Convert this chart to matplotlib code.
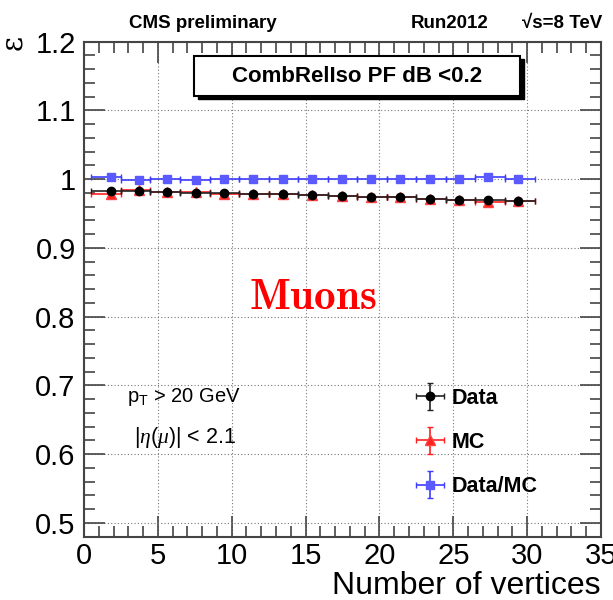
import matplotlib
matplotlib.use("Agg")
import matplotlib.pyplot as plt
from matplotlib.patches import Rectangle
from matplotlib.ticker import MultipleLocator
from matplotlib.legend_handler import HandlerErrorbar
import numpy as np

plt.rcParams['font.family'] = ['Liberation Sans', 'DejaVu Sans']
plt.rcParams['mathtext.fontset'] = 'custom'
plt.rcParams['mathtext.rm'] = 'Liberation Sans'
plt.rcParams['mathtext.it'] = 'Liberation Serif:italic'

# Number-of-vertices bins (width 2) and mean position of each bin
bin_low = [0.5, 2.5, 4.5, 6.5, 8.5, 10.5, 12.5, 14.5, 16.5, 18.5, 20.5, 22.5, 24.5, 26.5, 28.5]
bin_high = [2.5, 4.5, 6.5, 8.5, 10.5, 12.5, 14.5, 16.5, 18.5, 20.5, 22.5, 24.5, 26.5, 28.5, 30.5]
nvtx = [1.84, 3.72, 5.64, 7.58, 9.50, 11.47, 13.44, 15.42, 17.47, 19.46, 21.40, 23.39, 25.37, 27.37, 29.40]

eff_data = [0.9825, 0.9825, 0.9811, 0.9801, 0.9796, 0.9782, 0.9782, 0.9767,
            0.9757, 0.9738, 0.9738, 0.9719, 0.9704, 0.9704, 0.9690]
eff_mc = [0.9790, 0.9838, 0.9810, 0.9810, 0.9792, 0.9778, 0.9778, 0.9763,
          0.9753, 0.9734, 0.9734, 0.9715, 0.9700, 0.9675, 0.9686]
ratio = [1.0038, 0.9987, 1.0000, 0.9990, 1.0004, 1.0004, 1.0004, 1.0004,
         1.0004, 1.0004, 1.0004, 1.0004, 1.0004, 1.0030, 1.0004]
eff_err = [0.0005] * 15

x = np.array(nvtx)
xerr = [x - np.array(bin_low), np.array(bin_high) - x]

fig = plt.figure(figsize=(6.13, 6.0), dpi=100)
ax = fig.add_axes([84/613, 1 - 536.7/600, (601 - 84)/613, (536.7 - 41.7)/600])

mc = ax.errorbar(x, eff_mc, xerr=xerr, yerr=eff_err, fmt='^', color='#ff2020',
                 ecolor='#ff2020', ms=6.5, mec='#ff4040', mfc='#ff2020',
                 elinewidth=1.2, capsize=2.5, capthick=1.0, zorder=3, label='MC')
data = ax.errorbar(x, eff_data, xerr=xerr, yerr=eff_err, fmt='o', color='black',
                   ecolor='#222222', ms=6, mfc='black', mec='black',
                   elinewidth=1.2, capsize=2.5, capthick=1.0, zorder=4, label='Data')
rat = ax.errorbar(x, ratio, xerr=xerr, yerr=eff_err, fmt='s', color='#3c3cff',
                  ecolor='#3c3cff', ms=6, mfc='#5a5aff', mec='#5a5aff',
                  elinewidth=1.2, capsize=2.5, capthick=1.0, zorder=5, label='Data/MC')

ax.set_xlim(0, 35)
ax.set_ylim(0.48, 1.2)
ax.xaxis.set_major_locator(MultipleLocator(5))
ax.xaxis.set_minor_locator(MultipleLocator(1))
ax.yaxis.set_minor_locator(MultipleLocator(0.02))
ax.set_yticks([0.5, 0.6, 0.7, 0.8, 0.9, 1.0, 1.1, 1.2])
ax.set_yticklabels(['0.5', '0.6', '0.7', '0.8', '0.9', '1', '1.1', '1.2'])
ax.tick_params(which='both', direction='in', top=True, right=True, color='#444444', width=1.2)
ax.tick_params(which='major', length=15, labelsize=21, pad=6)
ax.tick_params(which='minor', length=8)
ax.tick_params(axis='x', which='major', pad=4)
ax.grid(True, which='major', linestyle=(0, (1, 2)), color='#777777', linewidth=0.8)
for s in ax.spines.values():
    s.set_color('#444444')
    s.set_linewidth(1.5)

fig.text(600/613, 1 - 593.5/600, 'Number of vertices', ha='right', va='baseline',
         fontsize=23)
fig.text(13/613, 1 - 42/600, 'ε', rotation=90, ha='center', va='center',
         fontsize=21, family='DejaVu Serif')

# Header
fig.text(203/613, 1 - 24/600, 'CMS preliminary', ha='center', va='center',
         fontsize=13.5, fontweight='bold')
fig.text(450/613, 1 - 24/600, 'Run2012', ha='center', va='center',
         fontsize=13.5, fontweight='bold')
fig.text(562/613, 1 - 24/600, '√s=8 TeV', ha='center', va='center',
         fontsize=13.5, fontweight='bold')

# Selection box with shadow
bx0, by_top, bx1, by_bot = 194, 56, 520, 96
fig.patches.append(Rectangle(((bx0 + 4) / 613, 1 - (by_bot + 3) / 600),
                             (bx1 - bx0) / 613, (by_bot - by_top) / 600,
                             transform=fig.transFigure, facecolor='black',
                             edgecolor='black', zorder=10))
fig.patches.append(Rectangle((bx0 / 613, 1 - by_bot / 600),
                             (bx1 - bx0) / 613, (by_bot - by_top) / 600,
                             transform=fig.transFigure, facecolor='white',
                             edgecolor='black', linewidth=1.5, zorder=11))
fig.text((bx0 + bx1) / 2 / 613, 1 - (by_top + by_bot) / 2 / 600,
         'CombRelIso PF dB <0.2', ha='center', va='center',
         fontsize=16, fontweight='bold', zorder=12)

# Annotations inside the frame
ax.text(11.2, 0.8115, r'$\mathbf{Muons}$', color='red', fontsize=31, ha='left',
        va='baseline', math_fontfamily='cm')
ax.text(2.9, 0.683, r'p$_\mathregular{T}$ > 20 GeV', fontsize=14.5, ha='left', va='center')
ax.text(3.4, 0.625, r'$|\eta(\mu)|$ < 2.1', fontsize=15.5, ha='left', va='center')

leg = ax.legend(handles=[data, mc, rat], loc='upper left',
                bbox_to_anchor=(0.603, 0.34), frameon=False,
                prop={'weight': 'bold', 'size': 15.5}, labelspacing=1.08,
                handlelength=1.4, handletextpad=0.3,
                handler_map={type(data): HandlerErrorbar(xerr_size=0.65, yerr_size=0.62)})

fig.savefig('out.png', dpi=100)
